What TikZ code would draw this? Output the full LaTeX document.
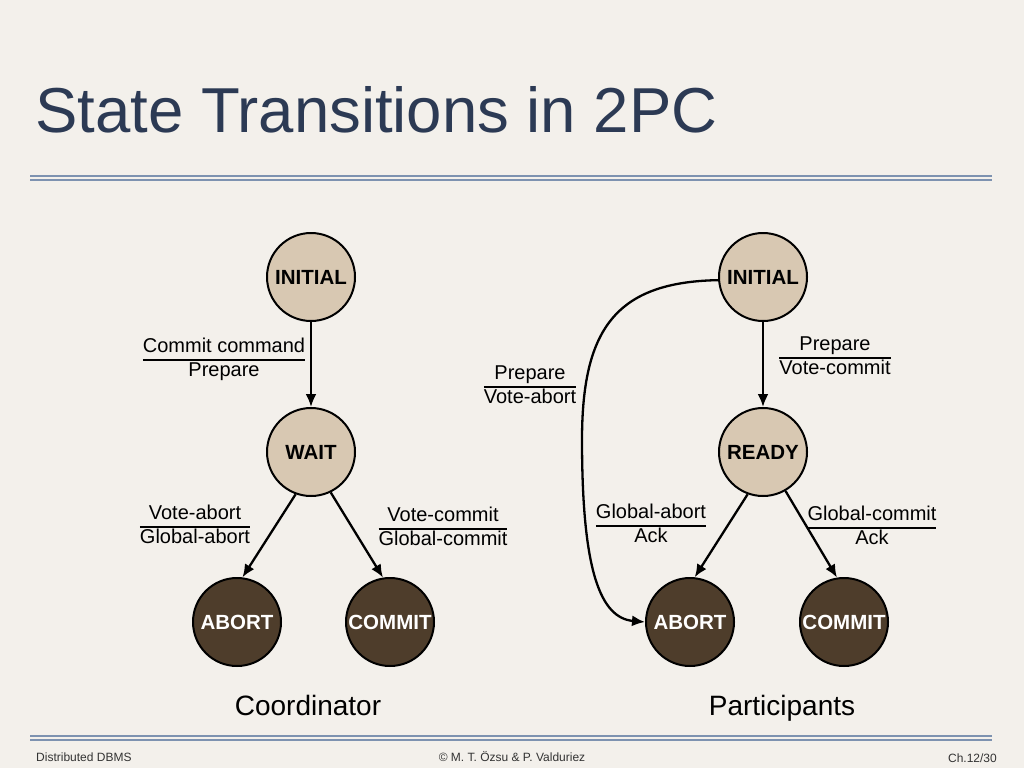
\documentclass[tikz,border=0pt]{standalone}
\usepackage{fontspec}
\setmainfont{Liberation Sans}
\usepackage{xcolor}
\definecolor{Paper}{HTML}{F3F0EB}
\definecolor{Tan}{HTML}{D8C8B2}
\definecolor{DarkBrown}{HTML}{4E3D2B}
\definecolor{Navy}{HTML}{2C3A54}
\definecolor{RuleBlue}{HTML}{7D92B0}
\definecolor{DarkGrey}{HTML}{333333}
\usepackage{tikz}
\usetikzlibrary{arrows.meta,positioning}
\newcommand\Radius{44pt}
\newcommand\TransFont{\fontsize{20}{22}\selectfont}
\newcommand\Trans[2]{\begin{tabular}{@{}c@{}}#1\\\hline #2\end{tabular}}
\setlength\arrayrulewidth{1.8pt}
\tikzstyle{state}=[circle,draw=black,line width=2pt,minimum size=2*\Radius,
                     inner sep=0pt,font=\fontsize{20.5}{24}\selectfont\bfseries]
\tikzstyle{midstate}=[state,fill=Tan,text=black]
\tikzstyle{endstate}=[state,fill=DarkBrown,text=white]
\tikzstyle{trans}=[font=\TransFont,inner sep=0pt]
\tikzstyle{side}=[font=\fontsize{28}{32}\selectfont,inner sep=0pt]
\tikzstyle{foot}=[font=\fontsize{12}{14}\selectfont,text=DarkGrey,inner sep=0pt]
\tikzstyle{edge}=[line width=2.3pt,-{Latex[length=13pt,width=11pt]}]

\begin{document}
\begin{tikzpicture}[x=1pt,y=-1pt]
      \fill[Paper] (0,0) rectangle (1024,768);
      \useasboundingbox (0,0) rectangle (1024,768);
      % title and rules
      \node[anchor=base west,inner sep=0pt,text=Navy,font=\fontsize{63.5}{70}\selectfont] (title) at (35,132) {State Transitions in 2PC};
      \draw[RuleBlue,line width=2pt] (30,176) -- (992,176) (30,180) -- (992,180);
      \draw[RuleBlue,line width=2pt] (30,736) -- (992,736) (30,740) -- (992,740);
      % coordinator
      \node[midstate] (cinit) at (311,277) {INITIAL};
      \node[midstate] (wait) at (311,452) {WAIT};
      \node[endstate] (cabort) at (237,622) {ABORT};
      \node[endstate] (ccommit) at (390,622) {COMMIT};
      \draw[edge] (cinit) -- (wait);
      \draw[edge] (wait.250) -- (cabort.83);
      \draw[edge] (wait.296) -- (ccommit.99);
      \node[trans] (tcmd) at (224,360) {\Trans{Commit command}{Prepare}};
      \node[trans] (tvab) at (195,527) {\Trans{Vote-abort}{Global-abort}};
      \node[trans] (tvcm) at (443,529) {\Trans{Vote-commit}{Global-commit}};
      \node[side] (coord) at (308,705) {Coordinator};
      % participants
      \node[midstate] (pinit) at (763,277) {INITIAL};
      \node[midstate] (ready) at (763,452) {READY};
      \node[endstate] (pabort) at (690,622) {ABORT};
      \node[endstate] (pcommit) at (844,622) {COMMIT};
      \draw[edge] (pinit) -- (ready);
      \draw[edge] (ready.250) -- (pabort.84);
      \draw[edge] (ready.300) -- (pcommit.99);
      \draw[edge] (pinit.184) .. controls (615,282) and (582,330) .. (582,440)
                  .. controls (582,570) and (600,618) .. (pabort.west);
      \node[trans] (tpvc) at (835,358) {\Trans{Prepare}{Vote-commit}};
      \node[trans] (tpva) at (530,387) {\Trans{Prepare}{Vote-abort}};
      \node[trans] (tgab) at (651,526) {\Trans{Global-abort}{Ack}};
      \node[trans] (tgcm) at (872,528) {\Trans{Global-commit}{Ack}};
      \node[side] (parts) at (782,708) {Participants};
      % footer
      \node[foot,anchor=west] (fleft) at (36,757) {Distributed DBMS};
      \node[foot] (fmid) at (512,757) {© M. T. Özsu \& P. Valduriez};
      \node[foot,anchor=east] (fright) at (997,758) {Ch.12/30};
   \end{tikzpicture}
\end{document}
